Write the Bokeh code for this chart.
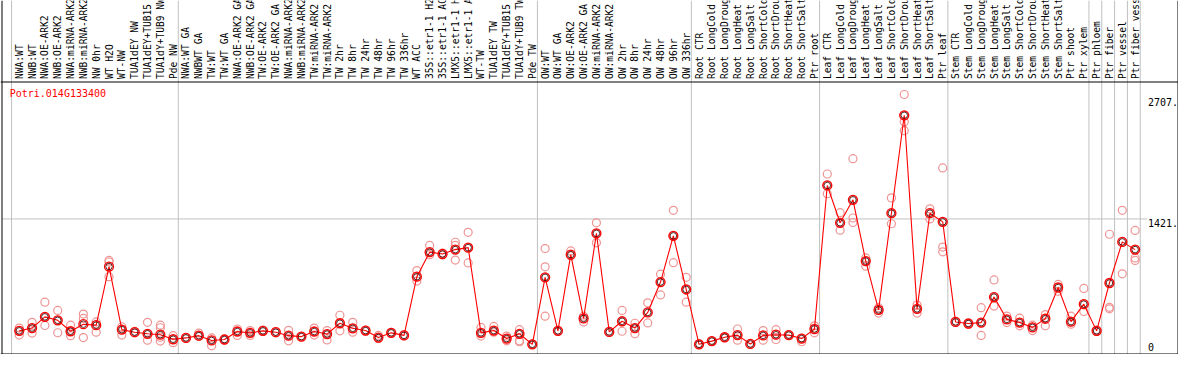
import math
from bokeh.plotting import figure
from bokeh.models import Range1d
from bokeh.core.properties import value
from bokeh.embed import file_html
from bokeh.resources import INLINE

gene = "Potri.014G133400"

samples = [
    "NWA:WT", "NWB:WT", "NWA:OE-ARK2", "NWB:OE-ARK2", "NWA:miRNA-ARK2", "NWB:miRNA-ARK2",
    "NW 0hr", "WT H2O", "WT-NW", "TUA1dEY NW", "TUA1dEY+TUB15", "TUA1dY+TUB9 NW", "Pde NW",
    "NWA:WT GA", "NWBWT GA", "TW:WT", "TW:WT GA", "NWA:OE-ARK2 GA", "NWB:OE-ARK2 GA",
    "TW:OE-ARK2", "TW:OE-ARK2 GA", "NWA:miRNA-ARK2", "NWB:miRNA-ARK2", "TW:miRNA-ARK2",
    "TW:miRNA-ARK2", "TW 2hr", "TW 8hr", "TW 24hr", "TW 48hr", "TW 96hr", "TW 336hr",
    "WT ACC", "35S::etr1-1 H2O", "35S::etr1-1 ACC", "LMX5::etr1-1 H2O", "LMX5::etr1-1 ACC",
    "WT-TW", "TUA1dEY TW", "TUA1dEY+TUB15", "TUA1dY+TUB9 TW", "Pde TW",
    "OW:WT", "OW:WT GA", "OW:OE-ARK2", "OW:OE-ARK2 GA", "OW:miRNA-ARK2", "OW:miRNA-ARK2",
    "OW 2hr", "OW 8hr", "OW 24hr", "OW 48hr", "OW 96hr", "OW 336hr",
    "Root CTR", "Root LongCold", "Root LongDrought", "Root LongHeat", "Root LongSalt",
    "Root ShortCold", "Root ShortDrought", "Root ShortHeat", "Root ShortSalt", "Ptr root",
    "Leaf CTR", "Leaf LongCold", "Leaf LongDrought", "Leaf LongHeat", "Leaf LongSalt",
    "Leaf ShortCold", "Leaf ShortDrought", "Leaf ShortHeat", "Leaf ShortSalt", "Ptr leaf",
    "Stem CTR", "Stem LongCold", "Stem LongDrought", "Stem LongHeat", "Stem LongSalt",
    "Stem ShortCold", "Stem ShortDrought", "Stem ShortHeat", "Stem ShortSalt", "Ptr shoot",
    "Ptr xylem", "Ptr phloem", "Ptr fiber", "Ptr vessel", "Ptr fiber vessel",
]

mean_expr = [
    231, 261, 380, 343, 227, 302, 292, 915, 244, 217, 200, 190, 142,
    156, 180, 129, 139, 224, 210, 231, 217, 180, 170, 224, 197, 312, 258, 234, 160, 210,
    183, 807, 1068, 1048, 1095, 1116, 210, 234, 149, 200, 88,
    800, 231, 1041, 363, 1268, 220, 333, 261, 427, 750, 1241, 671,
    88, 122, 163, 186, 92, 183, 190, 186, 149, 251,
    1777, 1380, 1624, 973, 454, 1482, 2523, 465, 1482, 1390,
    326, 309, 319, 590, 353, 319, 268, 360, 692, 329, 515,
    231, 740, 1177, 1095,
]

replicates = [
    [261, 231, 186], [322, 261, 207], [536, 380, 288], [448, 343, 211], [292, 227, 180],
    [410, 363, 160], [326, 292, 217], [980, 963, 807], [275, 244, 186], [225, 217, 210],
    [322, 200, 132], [292, 264, 163, 122], [180, 142, 105],
    [160, 156, 150], [207, 180, 175], [156, 129, 74], [145, 139, 135], [251, 224, 183],
    [234, 210, 183], [238, 231, 224], [224, 217, 210], [237, 180, 125], [172, 170, 168],
    [261, 224, 186], [234, 197, 135], [397, 312, 231], [322, 258, 217], [240, 234, 228],
    [183, 160, 149], [215, 210, 205], [190, 183, 178], [872, 807, 760], [1139, 1068, 1041],
    [1058, 1048, 1040], [1173, 1139, 1095, 984], [1279, 1116, 953], [268, 210, 176],
    [278, 234, 217], [176, 149, 125], [244, 200, 125, 115], [90, 88, 86],
    [1106, 912, 800, 387], [235, 231, 227], [1081, 1041, 1031], [387, 363, 326],
    [1380, 1268, 1167], [225, 220, 215], [448, 333, 227], [312, 261, 200], [529, 427, 315],
    [834, 750, 613], [1513, 1241, 956], [800, 671, 536],
    [95, 88, 84], [125, 122, 119], [166, 163, 160], [251, 186, 132], [94, 92, 90],
    [234, 183, 132], [244, 190, 139], [190, 186, 182], [155, 149, 115], [285, 251, 210],
    [1899, 1777, 1689], [1488, 1380, 1302], [2062, 1624, 1431, 1383], [1007, 973, 919],
    [478, 454, 420], [1645, 1482, 1370], [2744, 2523, 2455, 2360], [505, 465, 420],
    [1529, 1482, 1421], [1963, 1390, 1122, 1071],
    [332, 326, 320], [319, 309, 300], [478, 319, 183], [773, 590, 495], [387, 353, 319],
    [366, 319, 285], [292, 268, 234], [404, 360, 285], [725, 692, 651], [387, 329, 302],
    [682, 516, 437],
    [240, 231, 224], [1258, 740, 481, 465], [1513, 1177, 837], [1299, 1095, 1007, 980],
]

group_starts = [0, 13, 41, 53, 63, 73, 84, 85, 86, 87, 88]

tick_values = [2707, 1421, 0]
tick_labels = ["2707.", "1421.", "0"]

# ---------------------------------------------------------------- layout
W, H = 1178, 354
MONO = value("DejaVu Sans Mono")

p = figure(width=W, height=H, output_backend="svg", toolbar_location=None,
           x_range=Range1d(-1.4615, 90.383), y_range=Range1d(-20.3, 3743.6),
           x_axis_type=None, y_axis_type=None, min_border=0)
p.min_border_left = p.min_border_right = p.min_border_top = p.min_border_bottom = 0
p.outline_line_color = None
p.title.visible = False
p.background_fill_color = "white"
p.border_fill_color = "white"
p.extra_x_ranges = {"px": Range1d(0, W)}
p.extra_y_ranges = {"py": Range1d(H, 0)}

idx = list(range(len(samples)))

# group separators (full height, through the header)
bx = [g - 0.6 for g in group_starts]
p.segment(x0=bx, y0=[0] * len(bx), x1=bx, y1=[H] * len(bx), y_range_name="py",
          line_color="#c0c0c0", line_width=1)

# horizontal grid line at the middle tick
grid_vals = [v for v in tick_values if 0 < v < max(tick_values)]
label_x = 1147.4
p.segment(x0=[1.5] * len(grid_vals), x1=[label_x - 1] * len(grid_vals),
          y0=grid_vals, y1=grid_vals, x_range_name="px",
          line_color="#c0c0c0", line_width=1)

# black frame lines
p.segment(x0=[1.5, 0, 1177.5, 0], y0=[0, 353.5, 0, 81.5],
          x1=[1.5, W, 1177.5, W], y1=[353.5, 353.5, 353.5, 81.5],
          x_range_name="px", y_range_name="py", line_color="black", line_width=1)

# header sample labels
p.text(x=idx, y=[78.5] * len(idx), text=samples, y_range_name="py",
       angle=math.pi / 2, text_align="left", text_baseline="middle",
       text_font=MONO, text_font_size="9.6px", text_color="black")

# gene name
p.text(x=[9.2], y=[92.8], text=[gene], x_range_name="px", y_range_name="py",
       text_align="left", text_baseline="middle", text_font=MONO,
       text_font_size="10px", text_color="red")

# value labels on the right
p.text(x=[label_x] * len(tick_values), y=tick_values, text=tick_labels,
       x_range_name="px", y_offset=[4 if v > 0 else -5.5 for v in tick_values],
       text_align="left", text_baseline="middle", text_font=MONO,
       text_font_size="10px", text_color="black")

# replicates
rep_x = [i for i, r in enumerate(replicates) for _ in r]
rep_y = [v for r in replicates for v in r]
p.scatter(rep_x, rep_y, marker="circle", size=8, fill_color=None,
          line_color="#ef9494", line_width=1.2)

# means
p.line(idx, mean_expr, line_color="red", line_width=1.1)
p.scatter(idx, mean_expr, marker="circle", size=9, fill_color=None,
          line_color="red", line_width=1.3)
p.scatter(idx, mean_expr, marker="circle", size=6.5, fill_color=None,
          line_color="#300000", line_width=0.8)

open("out.html", "w").write(file_html(p, INLINE))
